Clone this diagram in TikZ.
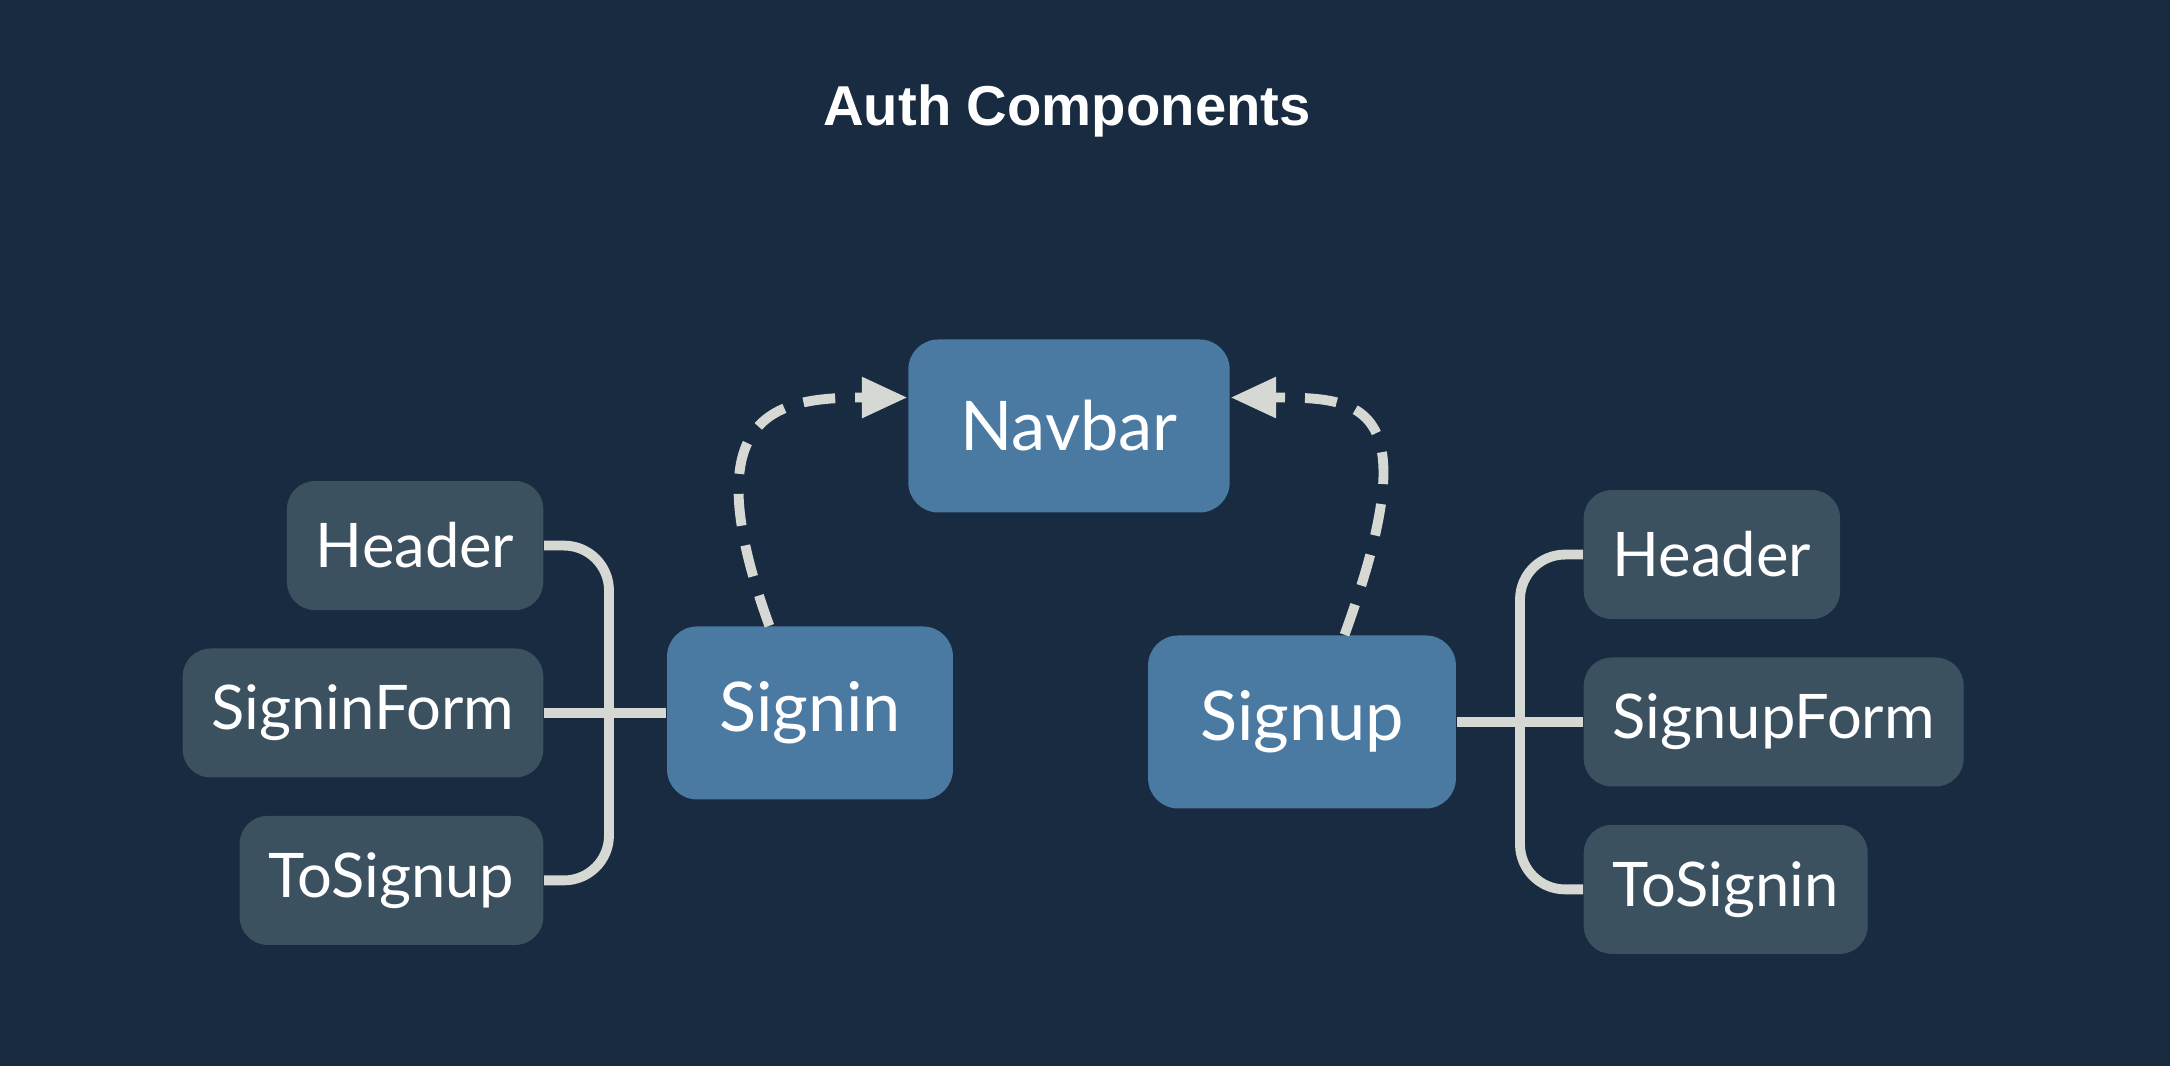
\documentclass[tikz,border=0pt]{standalone}
\usepackage{fontspec}
\usepackage{tikz}
\usetikzlibrary{positioning,arrows.meta}
\setmainfont{Lato}
\newfontfamily\titlefont{Liberation Sans}
\definecolor{bgnavy}{HTML}{182B40}
\definecolor{mainblue}{HTML}{4A7AA2}
\definecolor{partgrey}{HTML}{3C5160}
\definecolor{wire}{HTML}{D6D8D3}

\begin{document}
\begin{tikzpicture}[
    main/.style={fill=mainblue, text=white, rounded corners=0.3cm, minimum height=1.73cm, inner xsep=0.52cm, font=\fontsize{19.5}{23}\selectfont},
    part/.style={fill=partgrey, text=white, rounded corners=0.28cm, minimum height=1.29cm, inner xsep=0.29cm, font=\fontsize{17.5}{21}\selectfont},
    link/.style={draw=wire, line width=2.8pt, rounded corners=0.45cm},
    dashlink/.style={draw=wire, line width=2.8pt, dash pattern=on 0.32cm off 0.2cm, -{Triangle[length=13pt,width=11pt]}}
  ]
  \fill[bgnavy] (0,0) rectangle (21.70,10.66);
  \node[text=white, font=\titlefont\bfseries\fontsize{16}{19}\selectfont] (title) at (10.67,9.55) {Auth Components};

  \node[main] (nav) at (10.69,6.40) {Navbar};
  \node[main] (si) at (8.10,3.53) {Signin};
  \node[main] (su) at (13.02,3.44) {Signup};

  % Signin parts
  \node[part, anchor=east] (sif) at (5.44,3.53) {SigninForm};
  \node[part, above=0.37cm of sif.north east, anchor=south east] (hl) {Header};
  \node[part, below=0.37cm of sif.south east, anchor=north east] (tsu) {ToSignup};
  \coordinate (lbus) at (6.09,3.53);

  % Signup parts
  \node[part, anchor=west] (suf) at (15.83,3.44) {SignupForm};
  \node[part, above=0.37cm of suf.north west, anchor=south west] (hr) {Header};
  \node[part, below=0.37cm of suf.south west, anchor=north west] (tsi) {ToSignin};
  \coordinate (rbus) at (15.20,3.44);

  \draw[link] (hl.east) -| (lbus) |- (tsu.east);
  \draw[link] (sif.east) -- (si.west);
  \draw[link] (hr.west) -| (rbus) |- (tsi.west);
  \draw[link] (su.east) -- (suf.west);

  \draw[dashlink] (si.115) .. controls +(110:2.3) and +(-1.3,0) .. (nav.170);
  \draw[dashlink] (su.64) .. controls +(70:2.5) and +(1.3,0) .. (nav.10);
\end{tikzpicture}
\end{document}
